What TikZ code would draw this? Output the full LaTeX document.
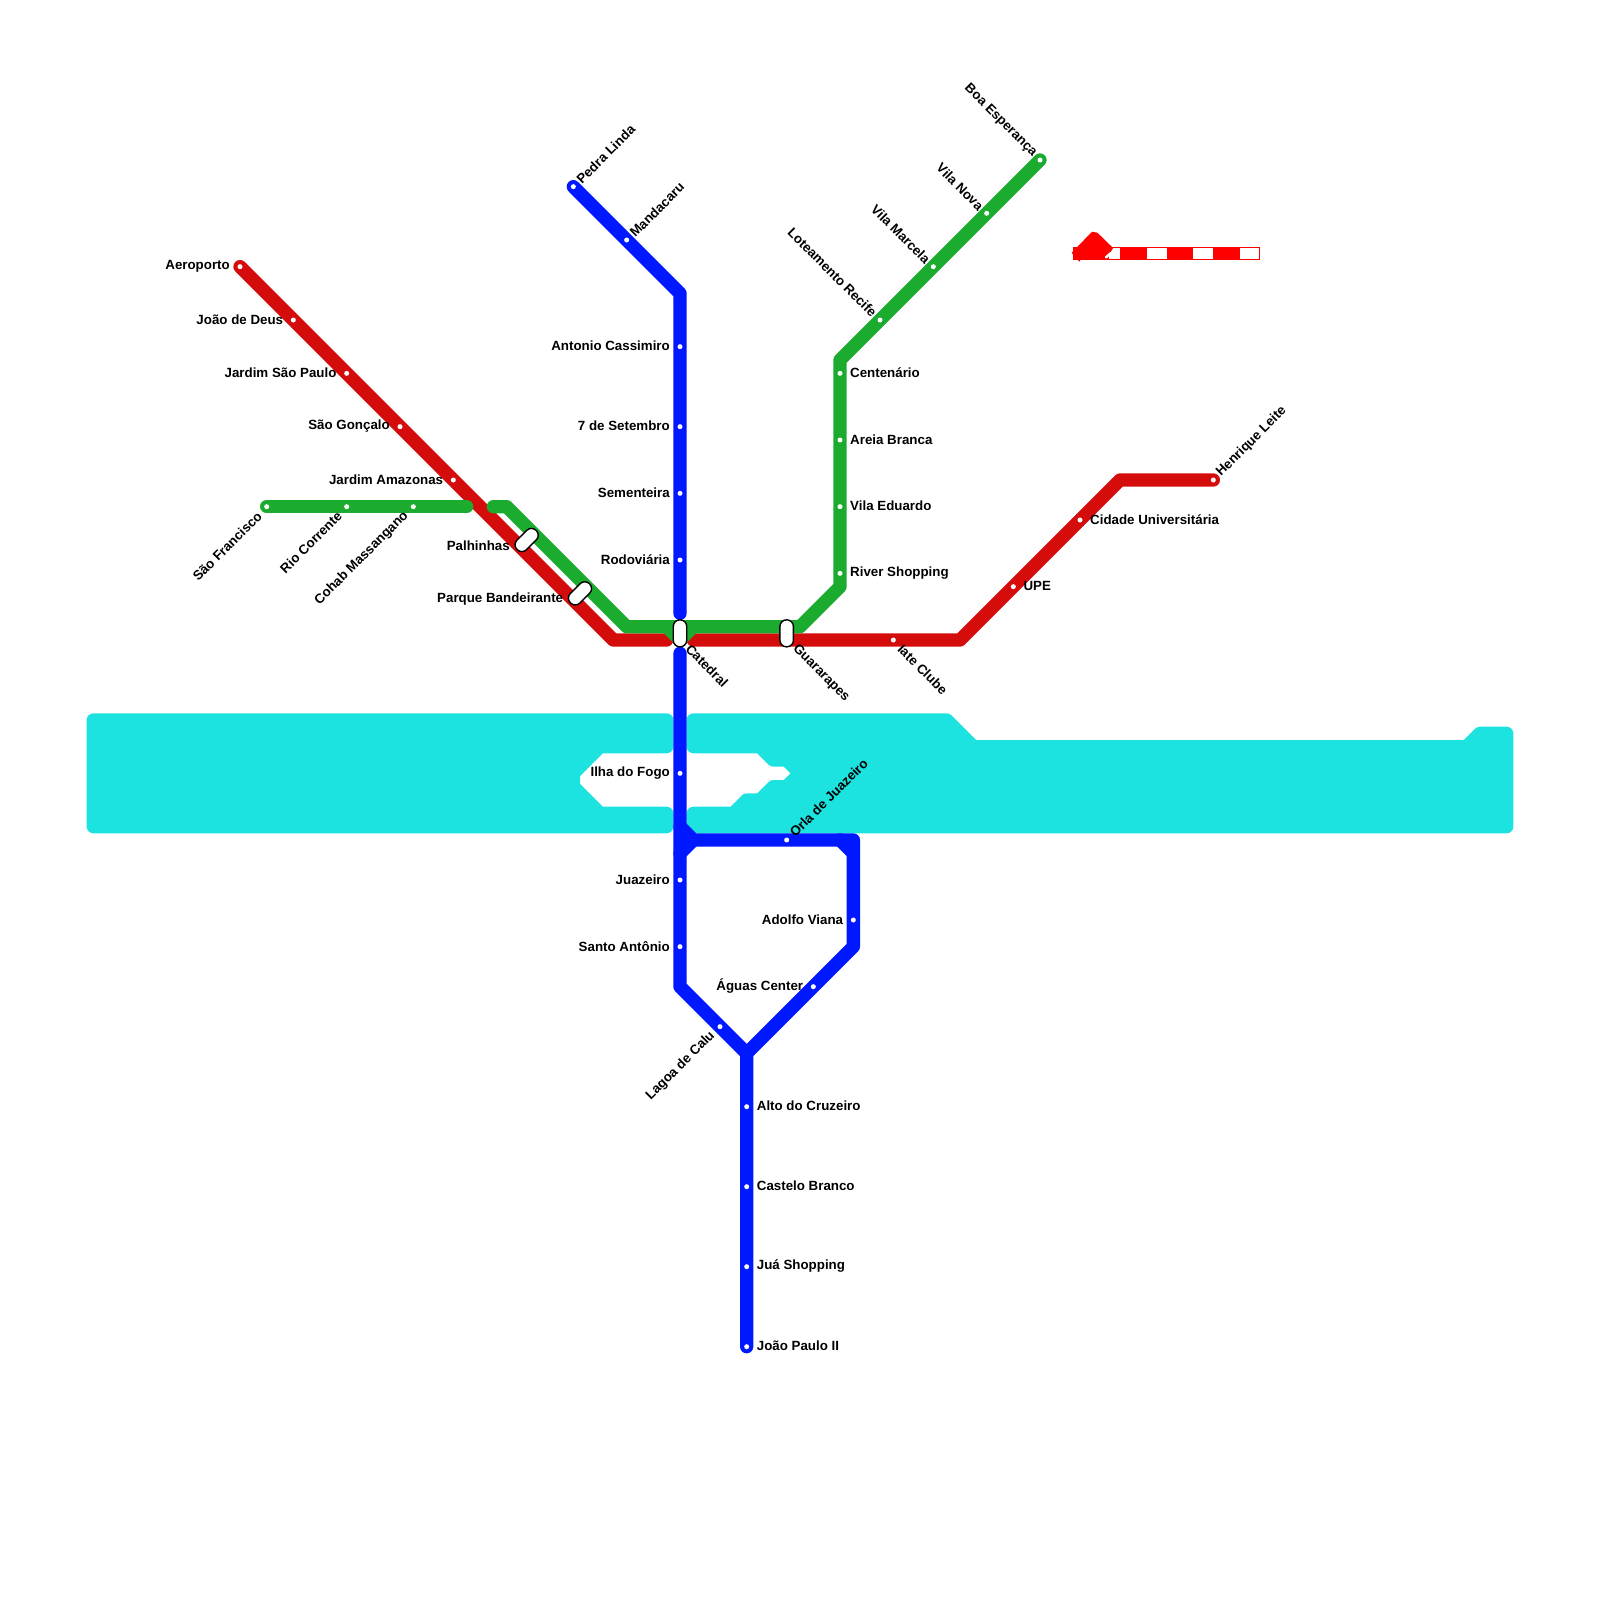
\documentclass[tikz,border=0pt]{standalone}
\usepackage{fontspec}
\setmainfont{Liberation Sans}
\definecolor{wat}{HTML}{1CE3E0}
\definecolor{lred}{HTML}{D50C0C}
\definecolor{lgreen}{HTML}{1BAB2F}
\definecolor{lblue}{HTML}{0018FF}
\definecolor{legred}{HTML}{FF0000}
\tikzset{
  water/.style={fill=wat,draw=wat,line width=13.33pt,line join=round},
  metro/.style={line width=13.33pt,line join=round,line cap=round},
  dot/.style={circle,fill=white,inner sep=0pt,minimum size=5pt},
  capsule/.style={draw=black,fill=white,line width=1.4pt,rounded corners=6.6pt,minimum width=27pt,minimum height=13.5pt,inner sep=0pt},
  txt/.style={font=\fontsize{13.33}{15}\selectfont\bfseries,inner sep=0pt,text=black},
  lblL/.style={txt,anchor=east,xshift=-10pt,yshift=0.5pt},
  lblR/.style={txt,anchor=west,xshift=10pt,yshift=0.5pt},
  lblUR/.style={txt,anchor=west,rotate=45,xshift=7.5pt},
  lblDR/.style={txt,anchor=west,rotate=-45,xshift=9.5pt},
  lblDL/.style={txt,anchor=east,rotate=45,xshift=-10pt},
  lblUL/.style={txt,anchor=east,rotate=-45,xshift=-7.5pt},
}
\newcommand{\stn}[3]{\node[dot] (#1) at (#1c) {}; \node[#2] (#1t) at (#1c) {#3};}
\begin{document}
\begin{tikzpicture}[x=13.3333pt,y=-13.3333pt]
\useasboundingbox (0,0) rectangle (120,120);
% water
\draw[water] (7,54) -- (50,54) -- (50,56) -- (45,56) -- (43,58) -- (43,59) -- (45,61) -- (50,61) -- (50,62) -- (7,62) -- cycle;
\draw[water] (52,54) -- (71,54) -- (73,56) -- (110,56) -- (111,55) -- (113,55) -- (113,62) -- (52,62) -- (52,61) -- (55,61) -- (56,60) -- (57,60) -- (58,59) -- (59,59) -- (60,58) -- (59,57) -- (58,57) -- (57,56) -- (52,56) -- cycle;
% coordinates: red
\coordinate (aeroc) at (18,20);
\coordinate (deusc) at (22,24);
\coordinate (jspc) at (26,28);
\coordinate (sgoc) at (30,32);
\coordinate (jamc) at (34,36);
\coordinate (palc) at (39,41);
\coordinate (parc) at (43,45);
\coordinate (rb1) at (46,48);
\coordinate (rb2) at (50,48);
\coordinate (rb3) at (52,48);
\coordinate (iatec) at (67,48);
\coordinate (rb4) at (72,48);
\coordinate (upec) at (76,44);
\coordinate (cidc) at (81,39);
\coordinate (rb5) at (84,36);
\coordinate (henc) at (91,36);
% green
\coordinate (sfrc) at (20,38);
\coordinate (rcoc) at (26,38);
\coordinate (cohc) at (31,38);
\coordinate (gb1) at (35,38);
\coordinate (gb2) at (37,38);
\coordinate (gb3) at (38,38);
\coordinate (gb4) at (47,47);
\coordinate (gb5) at (50,47);
\coordinate (gb6) at (51,48);
\coordinate (gb7) at (52,47);
\coordinate (gb8) at (60,47);
\coordinate (gb9) at (63,44);
\coordinate (rivc) at (63,43);
\coordinate (vedc) at (63,38);
\coordinate (arec) at (63,33);
\coordinate (cenc) at (63,28);
\coordinate (gb10) at (63,27);
\coordinate (lotc) at (66,24);
\coordinate (vmac) at (70,20);
\coordinate (vnoc) at (74,16);
\coordinate (boac) at (78,12);
% blue
\coordinate (pedc) at (43,14);
\coordinate (manc) at (47,18);
\coordinate (bb1) at (51,22);
\coordinate (antc) at (51,26);
\coordinate (setc) at (51,32);
\coordinate (semc) at (51,37);
\coordinate (rodc) at (51,42);
\coordinate (bb2) at (51,46);
\coordinate (bb3) at (51,49);
\coordinate (ilhc) at (51,58);
\coordinate (bb4) at (51,62);
\coordinate (bb5) at (51,64);
\coordinate (juac) at (51,66);
\coordinate (sanc) at (51,71);
\coordinate (bb6) at (51,74);
\coordinate (lagc) at (54,77);
\coordinate (bb7) at (56,79);
\coordinate (altc) at (56,83);
\coordinate (casc) at (56,89);
\coordinate (jshc) at (56,95);
\coordinate (jpac) at (56,101);
\coordinate (bb8) at (52,63);
\coordinate (orlc) at (59,63);
\coordinate (bb9) at (63,63);
\coordinate (bb10) at (64,63);
\coordinate (bb11) at (64,64);
\coordinate (adoc) at (64,69);
\coordinate (bb12) at (64,71);
\coordinate (aguc) at (61,74);
% lines
\draw[metro,lred] (aeroc) -- (rb1) -- (rb2);
\draw[metro,lred] (rb3) -- (rb4) -- (rb5) -- (henc);
\draw[metro,lgreen] (sfrc) -- (gb1);
\draw[metro,lgreen] (gb2) -- (gb3) -- (gb4) -- (gb5) -- (gb6) -- (gb7) -- (gb8) -- (gb9) -- (gb10) -- (boac);
\draw[metro,lgreen] (gb5) -- (gb7);
\draw[metro,lblue] (pedc) -- (bb1) -- (bb2);
\draw[metro,lblue] (bb3) -- (bb6) -- (bb7) -- (jpac);
\draw[metro,lblue] (bb4) -- (bb8) -- (bb10) -- (bb12) -- (bb7);
\draw[metro,lblue] (bb5) -- (bb8);
\draw[metro,lblue] (bb9) -- (bb11);
% interchanges
\node[capsule,rotate=45] (pal) at (39.5,40.5) {};
\node[capsule,rotate=45] (par) at (43.5,44.5) {};
\node[capsule,rotate=90] (cat) at (51,47.5) {};
\node[capsule,rotate=90] (gua) at (59,47.5) {};
\node[lblL] (palt) at (palc) {Palhinhas};
\node[lblL] (part) at (parc) {Parque Bandeirante};
\node[txt,anchor=west,rotate=-45] (catt) at (51.6,48.5) {Catedral};
\node[txt,anchor=west,rotate=-45] (guat) at (59.6,48.5) {Guararapes};
% stations
\stn{aero}{lblL}{Aeroporto}
\stn{deus}{lblL}{João de Deus}
\stn{jsp}{lblL}{Jardim São Paulo}
\stn{sgo}{lblL}{São Gonçalo}
\stn{jam}{lblL}{Jardim Amazonas}
\stn{iate}{lblDR}{Iate Clube}
\stn{upe}{lblR}{UPE}
\stn{cid}{lblR}{Cidade Universitária}
\stn{hen}{lblUR}{Henrique Leite}
\stn{sfr}{lblDL}{São Francisco}
\stn{rco}{lblDL}{Rio Corrente}
\stn{coh}{lblDL}{Cohab Massangano}
\stn{riv}{lblR}{River Shopping}
\stn{ved}{lblR}{Vila Eduardo}
\stn{are}{lblR}{Areia Branca}
\stn{cen}{lblR}{Centenário}
\stn{lot}{lblUL}{Loteamento Recife}
\stn{vma}{lblUL}{Vila Marcela}
\stn{vno}{lblUL}{Vila Nova}
\stn{boa}{lblUL}{Boa Esperança}
\stn{ped}{lblUR}{Pedra Linda}
\stn{man}{lblUR}{Mandacaru}
\stn{ant}{lblL}{Antonio Cassimiro}
\stn{set}{lblL}{7 de Setembro}
\stn{sem}{lblL}{Sementeira}
\stn{rod}{lblL}{Rodoviária}
\stn{ilh}{lblL}{Ilha do Fogo}
\stn{jua}{lblL}{Juazeiro}
\stn{san}{lblL}{Santo Antônio}
\stn{lag}{lblDL}{Lagoa de Calu}
\stn{alt}{lblR}{Alto do Cruzeiro}
\stn{cas}{lblR}{Castelo Branco}
\stn{jsh}{lblR}{Juá Shopping}
\stn{jpa}{lblR}{João Paulo II}
\stn{orl}{lblUR}{Orla de Juazeiro}
\stn{ado}{lblL}{Adolfo Viana}
\stn{agu}{lblL}{Águas Center}
% red mark at the upper right, drawn directly
\draw[legred,line width=1pt] (80.5,18.55) rectangle (94.43,19.43);
\fill[legred] (80.5,18.5) rectangle (83.2,19.46);
\fill[legred] (84,18.5) rectangle (86,19.46);
\fill[legred] (87.5,18.5) rectangle (89.5,19.46);
\fill[legred] (91,18.5) rectangle (93,19.46);
\fill[legred] (80.38,18.95) -- (81.9,17.38) -- (82.3,17.45) -- (83.48,18.6) -- (83.3,18.9) -- (82.8,19.46) -- (81,19.46) -- (81,19.63) -- (80.63,19.35) -- cycle;
\draw[white,line width=2.6pt,line cap=round] (82.95,19.3) -- (83.33,18.98);
\end{tikzpicture}
\end{document}
